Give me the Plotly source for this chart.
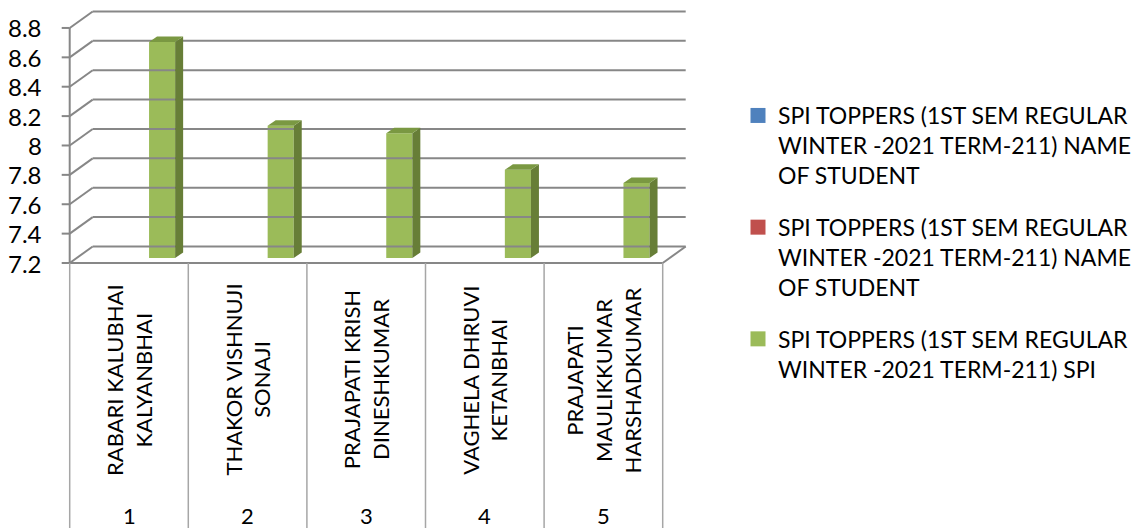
import plotly.graph_objects as go

# ---------------- data ----------------
student_ids = ["1", "2", "3", "4", "5"]
student_names = [
    "RABARI KALUBHAI<br>KALYANBHAI",
    "THAKOR VISHNUJI<br>SONAJI",
    "PRAJAPATI KRISH<br>DINESHKUMAR",
    "VAGHELA DHRUVI<br>KETANBHAI",
    "PRAJAPATI<br>MAULIKKUMAR<br>HARSHADKUMAR",
]
spi_values = [8.67, 8.10, 8.05, 7.80, 7.71]
y_ticks = [7.2, 7.4, 7.6, 7.8, 8.0, 8.2, 8.4, 8.6, 8.8]
y_tick_labels = ["7.2", "7.4", "7.6", "7.8", "8", "8.2", "8.4", "8.6", "8.8"]
series_names = [
    "SPI TOPPERS (1ST SEM REGULAR<br>WINTER -2021 TERM-211) NAME<br>OF STUDENT",
    "SPI TOPPERS (1ST SEM REGULAR<br>WINTER -2021 TERM-211) NAME<br>OF STUDENT",
    "SPI TOPPERS (1ST SEM REGULAR<br>WINTER -2021 TERM-211) SPI",
]
series_colors = ["#4F81BD", "#C0504D", "#9BBB59"]

# ---------------- geometry (pixel scale of the 3D frame) ----------------
OFF = 8                  # page body margin of the html page
W, H = 1139 - OFF, 528 - OFF
CAT_PX = 118.6           # pixels per category
VAL_PX = 146.9           # pixels per SPI unit
X0_PX = 129.0 - OFF      # figure pixel x of first category centre (front)
Y0_PX = 263.0 - OFF      # figure pixel y of axis minimum (front)
YMIN, YMAX = y_ticks[0], y_ticks[-1]
n = len(student_ids)
xs = list(range(n))

x_range = [-X0_PX / CAT_PX, (W - X0_PX) / CAT_PX]
y_range = [YMIN - (H - Y0_PX) / VAL_PX, YMIN + Y0_PX / VAL_PX]


def px_x(p):
    """reference pixel x -> data x"""
    return (p - OFF - X0_PX) / CAT_PX


def px_y(p):
    """reference pixel y -> data y"""
    return YMIN - (p - OFF - Y0_PX) / VAL_PX


wall_dx, wall_dy = 23 / CAT_PX, 16.5 / VAL_PX   # back wall depth offset
bar_dx, bar_dy = 7 / CAT_PX, 5 / VAL_PX         # bar row depth offset
side_dx, side_dy = 8 / CAT_PX, 5.5 / VAL_PX     # bar thickness (depth)
bar_w = 0.22
left, right = -0.5, n - 0.5

fig = go.Figure()

# frame lines: back-wall gridlines, left-wall diagonals, tick marks
gx, gy = [], []
for t in y_ticks:
    gx += [left + wall_dx, right + wall_dx, None]
    gy += [t + wall_dy, t + wall_dy, None]
    gx += [left, left + wall_dx, None]
    gy += [t, t + wall_dy, None]
    gx += [left - 8 / CAT_PX, left, None]
    gy += [t, t, None]
# front axis line, floor front edge, floor right edge
gx += [left, left, None, left, right, None, right, right + wall_dx, None]
gy += [YMIN, YMAX, None, YMIN, YMIN, None, YMIN, YMIN + wall_dy, None]
fig.add_trace(go.Scatter(x=gx, y=gy, mode="lines", line=dict(color="#878787", width=2),
                         hoverinfo="skip", showlegend=False))

# category table dividers
tx, ty = [], []
for k in range(n + 1):
    tx += [left + k, left + k, None]
    ty += [YMIN, y_range[0] - 1, None]
fig.add_trace(go.Scatter(x=tx, y=ty, mode="lines", line=dict(color="#A6A6A6", width=1.5),
                         hoverinfo="skip", showlegend=False))

# bars: clustered 3 series, only SPI has values
for s in range(3):
    vals = [None] * n if s < 2 else [v - YMIN for v in spi_values]
    fig.add_trace(go.Bar(
        x=[i + bar_dx + (s - 1) * bar_w for i in xs], y=vals, base=YMIN + bar_dy,
        width=bar_w, name=series_names[s], marker=dict(color=series_colors[s], line=dict(width=0)),
        showlegend=False, hoverinfo="skip" if s < 2 else None,
    ))

# 3D side and top faces of SPI bars
for i, v in zip(xs, spi_values):
    xl = i + bar_dx + bar_w / 2
    xr = xl + bar_w
    bottom, top = YMIN + bar_dy, v + bar_dy
    fig.add_trace(go.Scatter(
        x=[xr, xr + side_dx, xr + side_dx, xr, xr],
        y=[bottom, bottom + side_dy, top + side_dy, top, bottom],
        fill="toself", fillcolor="#677E37", mode="lines", line=dict(width=0),
        hoverinfo="skip", showlegend=False))
    fig.add_trace(go.Scatter(
        x=[xl, xr, xr + side_dx, xl + side_dx, xl],
        y=[top, top, top + side_dy, top + side_dy, top],
        fill="toself", fillcolor="#7A9842", mode="lines", line=dict(width=0),
        hoverinfo="skip", showlegend=False))

# legend entries (square swatches)
for s in range(3):
    fig.add_trace(go.Scatter(
        x=[None], y=[None], mode="markers", name=series_names[s],
        marker=dict(symbol="square", size=15, color=series_colors[s], line=dict(width=0)),
        legendgroup=f"g{s}", showlegend=True))

FONT = "Lato"
annotations = []
for t, lab in zip(y_ticks, y_tick_labels):
    annotations.append(dict(x=px_x(44), y=t, text=lab, showarrow=False,
                            xanchor="right", yanchor="middle",
                            font=dict(family=FONT, size=24, color="#000000")))
for i, nm, sid in zip(xs, student_names, student_ids):
    annotations.append(dict(x=i, y=px_y(380), text=nm, showarrow=False,
                            textangle=-90, xanchor="center", yanchor="middle",
                            font=dict(family=FONT, size=22, color="#000000")))
    annotations.append(dict(x=i, y=px_y(515), text=sid, showarrow=False,
                            xanchor="center", yanchor="middle",
                            font=dict(family=FONT, size=22, color="#000000")))

fig.update_layout(
    width=W, height=H, margin=dict(l=0, r=0, t=0, b=0),
    paper_bgcolor="white", plot_bgcolor="white",
    barmode="overlay",
    xaxis=dict(visible=False, range=x_range, fixedrange=True),
    yaxis=dict(visible=False, range=y_range, fixedrange=True),
    annotations=annotations,
    showlegend=True,
    legend=dict(x=(738 - OFF) / W, y=1 - (94 - OFF) / H, xanchor="left", yanchor="top",
                font=dict(family=FONT, size=23, color="#000000"),
                traceorder="grouped", tracegroupgap=19, valign="top",
                bgcolor="rgba(0,0,0,0)"),
)

fig.write_html("out.html")
